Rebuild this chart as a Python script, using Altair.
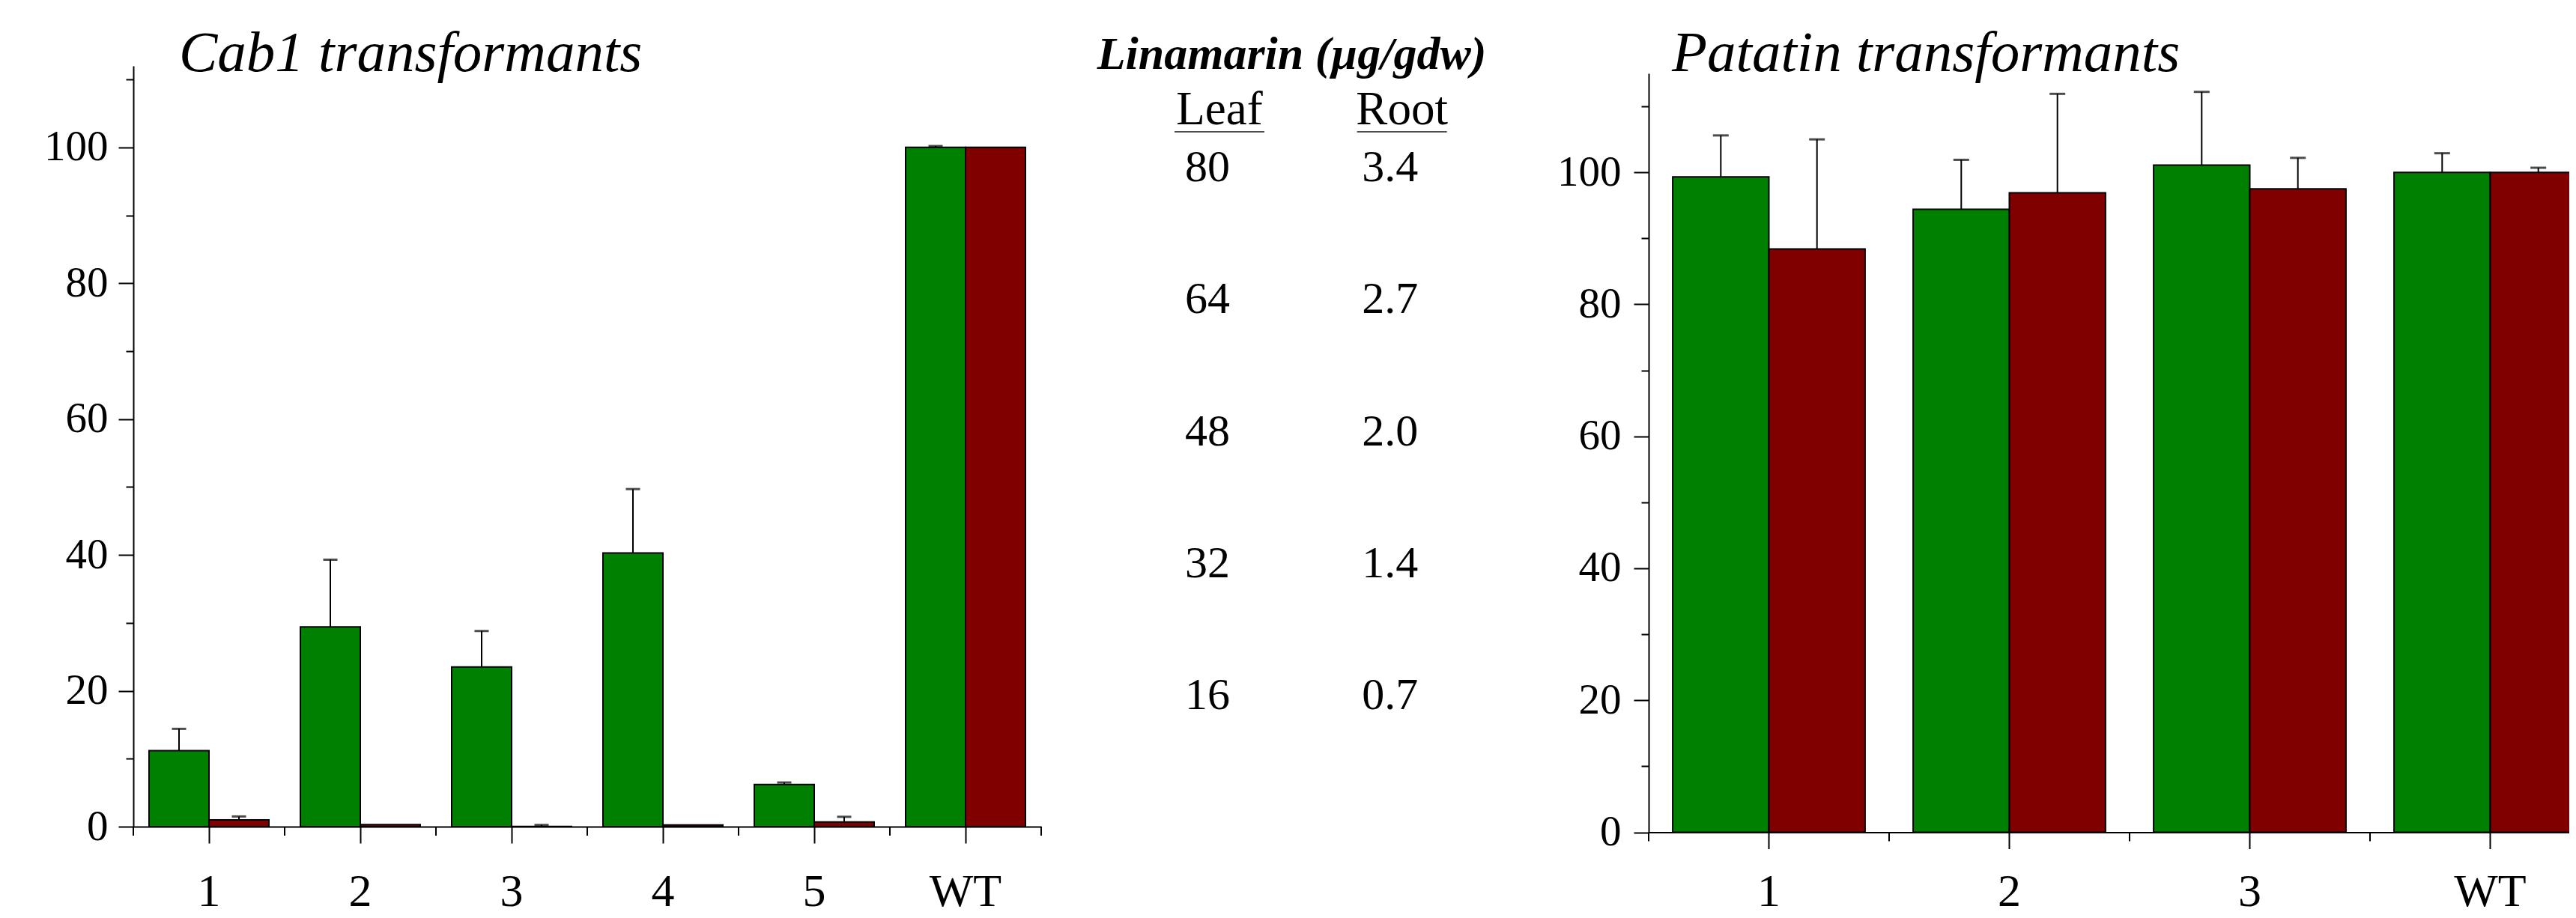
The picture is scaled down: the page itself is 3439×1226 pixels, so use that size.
import altair as alt
import pandas as pd

FONT = "Liberation Serif"
GREEN = "#008000"
RED = "#800000"
TISSUES = ["Leaf", "Root"]

# ---- Cab1 transformants (% of wild type) ----
cab_lines = ["1", "2", "3", "4", "5", "WT"]
cab_leaf = [11.2, 29.4, 23.5, 40.3, 6.2, 100.0]
cab_leaf_err = [3.2, 9.9, 5.3, 9.4, 0.3, 0.2]
cab_root = [1.0, 0.3, 0.02, 0.25, 0.7, 100.0]
cab_root_err = [0.5, 0.0, 0.23, 0.0, 0.75, 0.0]

# ---- Patatin transformants (% of wild type) ----
pat_lines = ["1", "2", "3", "WT"]
pat_leaf = [99.3, 94.4, 101.1, 100.0]
pat_leaf_err = [6.3, 7.5, 11.1, 2.9]
pat_root = [88.4, 96.9, 97.5, 100.0]
pat_root_err = [16.6, 15.0, 4.7, 0.7]

# ---- Linamarin scale (µg/gdw) ----
lin_cols = ["Leaf", "Root"]
lin_pct = [100, 80, 60, 40, 20]
lin_leaf = ["80", "64", "48", "32", "16"]
lin_root = ["3.4", "2.7", "2.0", "1.4", "0.7"]


def long_table(lines, leaf, leaf_err, root, root_err):
    rows = []
    for i, ln in enumerate(lines):
        rows.append({"line": ln, "tissue": "Leaf", "value": leaf[i], "err": leaf_err[i]})
        rows.append({"line": ln, "tissue": "Root", "value": root[i], "err": root_err[i]})
    t = pd.DataFrame(rows)
    t["hi"] = t["value"] + t["err"]
    return t


def bar_panel(lines, table, title, title_dx, width, height, y_max, y_range,
              off_pad, x_lab_pad, y_lab_pad, cap_size):
    x_axis = alt.Axis(title=None, labelAngle=0, labelFont=FONT, labelFontSize=62,
                      labelColor="black", labelPadding=x_lab_pad, labelBaseline="top",
                      tickSize=22, tickWidth=2, tickColor="black",
                      domainColor="black", domainWidth=2, grid=False)

    def X(**kw):
        return alt.X("line:N", sort=lines,
                     scale=alt.Scale(domain=lines, paddingInner=0, paddingOuter=0),
                     axis=x_axis, **kw)

    ysc = dict(domain=[0, y_max], nice=False, zero=True)
    if y_range is not None:
        ysc["range"] = y_range
    y_scale = alt.Scale(**ysc)
    y_axis = alt.Axis(title=None, values=list(range(0, 111, 10)),
                      labelExpr="datum.value % 20 === 0 ? datum.label : ''",
                      tickSize={"condition": {"test": "datum.value % 20 === 0", "value": 20},
                                "value": 10},
                      labelFont=FONT, labelFontSize=57, labelColor="black",
                      labelPadding=y_lab_pad, tickWidth=2, tickColor="black",
                      domainColor="black", domainWidth=2, grid=False)

    def Y(field):
        return alt.Y(field, scale=y_scale, axis=y_axis)

    xoff = alt.XOffset("tissue:N", sort=TISSUES,
                       scale=alt.Scale(domain=TISSUES, paddingInner=0, paddingOuter=off_pad))
    color = alt.Color("tissue:N", scale=alt.Scale(domain=TISSUES, range=[GREEN, RED]),
                      legend=None)

    base = alt.Chart(table)
    bars = base.mark_bar(stroke="black", strokeWidth=2).encode(
        x=X(), xOffset=xoff, y=Y("value:Q"), color=color)
    errs = base.transform_filter("datum.err > 0")
    stems = errs.mark_rule(color="black", strokeWidth=2).encode(
        x=X(), xOffset=xoff, y=Y("value:Q"), y2="hi:Q")
    caps = errs.mark_tick(color="black", thickness=3, size=cap_size).encode(
        x=X(), xOffset=xoff, y=Y("hi:Q"))

    cats = alt.Chart(pd.DataFrame({"line": lines}))
    minor = cats.mark_rule(color="black", strokeWidth=2).encode(
        x=X(bandPosition=0), y=alt.value(height), y2=alt.value(height + 12))
    last = cats.transform_filter(alt.datum.line == lines[-1]).mark_rule(
        color="black", strokeWidth=2).encode(
        x=X(bandPosition=1), y=alt.value(height), y2=alt.value(height + 12))

    return alt.layer(bars, stems, caps, minor, last).properties(
        width=width, height=height,
        title=alt.TitleParams(title, font=FONT, fontSize=77, fontStyle="italic",
                              fontWeight="normal", color="black", anchor="start",
                              frame="group", baseline="alphabetic", offset=-77,
                              dx=title_dx, dy=7))


cab_table = long_table(cab_lines, cab_leaf, cab_leaf_err, cab_root, cab_root_err)
pat_table = long_table(pat_lines, pat_leaf, pat_leaf_err, pat_root, pat_root_err)

left = bar_panel(cab_lines, cab_table, "Cab1 transformants", 61,
                 1212, 1016, 112, None, 0.2625, 34, 14, 19)
# the right panel runs past the right edge of the picture, as in the original figure
right = bar_panel(pat_lines, pat_table, "Patatin transformants", 31,
                  1284, 1023.5, 115, [1023.5, 10], 0.25, 26.5, 17, 21)

# ---- middle: Linamarin conversion table ----
lin_rows = []
for i, p in enumerate(lin_pct):
    lin_rows.append({"pct": p, "col": "Leaf", "txt": lin_leaf[i]})
    lin_rows.append({"pct": p, "col": "Root", "txt": lin_root[i]})
lin_table = pd.DataFrame(lin_rows)
heads_table = pd.DataFrame({"col": lin_cols})

xcol = alt.X("col:N", sort=lin_cols,
             scale=alt.Scale(type="point", domain=lin_cols, padding=1.0788, align=0.3734),
             axis=None)
ymid = alt.Y("pct:Q", scale=alt.Scale(domain=[0, 115], range=[1023.5, 10], nice=False),
             axis=None)

nums = alt.Chart(lin_table).mark_text(font=FONT, fontSize=60, baseline="alphabetic",
                                      dy=12, color="black").encode(
    x=xcol, y=ymid, text="txt:N")
heads = alt.Chart(heads_table).mark_text(font=FONT, fontSize=63, baseline="alphabetic",
                                         dx=16, color="black").encode(
    x=xcol, y=alt.value(78), text="col:N")
underline = alt.Chart(heads_table).mark_tick(orient="horizontal", size=120, thickness=2,
                                             xOffset=16, color="black").encode(
    x=xcol, y=alt.value(88))

middle = alt.layer(nums, heads, underline).properties(
    width=731, height=1023.5,
    title=alt.TitleParams("Linamarin (µg/gdw)", font=FONT, fontSize=62, fontStyle="italic",
                          fontWeight="bold", color="black", anchor="middle", frame="group",
                          baseline="alphabetic", offset=-62, dx=-71, dy=4))

chart = alt.hconcat(left, middle, right, spacing=40, bounds="flush").resolve_scale(
    xOffset="independent"
).properties(
    padding={"left": 50, "top": 25, "right": -56, "bottom": 0},
    background="white",
).configure_view(stroke=None)

chart.save("out.html", embed_options={"renderer": "svg", "actions": False})
